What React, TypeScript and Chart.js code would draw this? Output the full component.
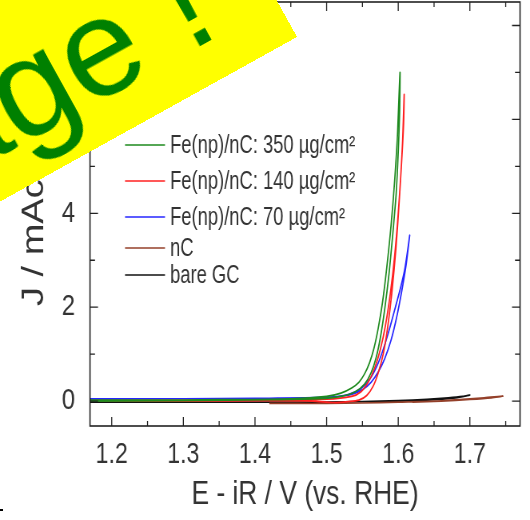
import { useEffect, useRef } from "react";
import { Chart, registerables } from "chart.js";

Chart.register(...registerables);

// ---------- data ----------
const SERIES_LABELS = [
  "Fe(np)/nC: 350 µg/cm²",
  "Fe(np)/nC: 140 µg/cm²",
  "Fe(np)/nC: 70 µg/cm²",
  "nC",
  "bare GC",
];
const SERIES_COLORS = ["#1e8a1e", "#ff2020", "#2626ff", "#94402a", "#111111"];

const E_350 = [1.17, 1.25, 1.35, 1.45, 1.5, 1.52, 1.535, 1.545, 1.553, 1.56, 1.566, 1.572, 1.578, 1.584, 1.59, 1.595, 1.599, 1.6025,
  1.602, 1.6, 1.597, 1.592, 1.587, 1.581, 1.575, 1.569, 1.562, 1.553, 1.54, 1.52, 1.49, 1.42, 1.3, 1.17];
const J_350 = [0.02, 0.02, 0.03, 0.05, 0.1, 0.17, 0.28, 0.4, 0.58, 0.82, 1.12, 1.55, 2.1, 2.85, 3.75, 4.7, 5.7, 7.0,
  6.2, 5.3, 4.4, 3.5, 2.7, 1.95, 1.35, 0.92, 0.6, 0.36, 0.2, 0.1, 0.05, 0.03, 0.01, 0.0];

const E_140 = [1.17, 1.3, 1.42, 1.48, 1.51, 1.53, 1.545, 1.556, 1.565, 1.572, 1.579, 1.585, 1.591, 1.597, 1.602, 1.606, 1.6083,
  1.6075, 1.604, 1.6, 1.595, 1.589, 1.582, 1.575, 1.567, 1.558, 1.548, 1.535, 1.5, 1.4, 1.17];
const J_140 = [0.0, 0.0, 0.01, 0.0, -0.03, -0.01, 0.02, 0.12, 0.32, 0.6, 1.0, 1.55, 2.3, 3.3, 4.4, 5.5, 6.53,
  5.9, 4.9, 4.0, 3.1, 2.3, 1.6, 1.1, 0.7, 0.4, 0.2, 0.1, 0.04, 0.02, 0.01];

const E_70 = [1.17, 1.3, 1.4, 1.47, 1.51, 1.535, 1.55, 1.562, 1.572, 1.581, 1.59, 1.598, 1.605, 1.611, 1.616,
  1.614, 1.609, 1.603, 1.596, 1.588, 1.579, 1.57, 1.56, 1.548, 1.53, 1.5, 1.42, 1.3, 1.17];
const J_70 = [0.04, 0.05, 0.06, 0.07, 0.09, 0.14, 0.24, 0.4, 0.62, 0.9, 1.3, 1.8, 2.35, 2.9, 3.53,
  3.3, 2.8, 2.4, 2.0, 1.55, 1.1, 0.74, 0.46, 0.27, 0.14, 0.08, 0.06, 0.05, 0.05];

const E_NC = [1.42, 1.46, 1.5, 1.55, 1.6, 1.65, 1.69, 1.72, 1.746, 1.73, 1.7, 1.66, 1.62];
const J_NC = [-0.05, -0.05, -0.05, -0.04, -0.02, 0.0, 0.04, 0.07, 0.106, 0.07, 0.035, 0.0, -0.02];

const E_GC = [1.17, 1.3, 1.4, 1.5, 1.55, 1.6, 1.64, 1.67, 1.69, 1.7, 1.695, 1.68, 1.65, 1.62, 1.58];
const J_GC = [-0.02, -0.02, -0.02, -0.02, -0.01, 0.01, 0.04, 0.07, 0.1, 0.13, 0.11, 0.07, 0.03, 0.01, -0.01];

const X_TICKS = [1.2, 1.3, 1.4, 1.5, 1.6, 1.7];
const X_MINOR = [1.25, 1.35, 1.45, 1.55, 1.65, 1.75];
const Y_TICKS = [0, 2, 4, 6, 8];
const Y_MINOR = [1, 3, 5, 7];
const X_RANGE = [1.1697, 1.77];
const Y_RANGE = [-0.53, 8.5];

const X_TITLE = "E - iR / V (vs. RHE)";
const Y_TITLE = "J / mAcm⁻²";
const BANNER_TEXT = "Image !";

// ---------- layout ----------
const PAGE_W = 530;
const PAGE_H = 520;
const CANVAS_W = 663;
const SX = PAGE_W / CANVAS_W;
const FONT = "'Liberation Sans', Arial, Helvetica, sans-serif";

const zip = (xs: number[], ys: number[]) => xs.map((x, i) => ({ x, y: ys[i] }));

const framePlugin = {
  id: "frameAndLegend",
  afterDraw(chart: any) {
    const { ctx, chartArea } = chart;
    const { left, right, top, bottom } = chartArea;
    const xs = chart.scales.x;
    const ys = chart.scales.y;
    ctx.save();
    ctx.strokeStyle = "#222";
    ctx.lineWidth = 1.6;
    ctx.strokeRect(left, top, right - left, bottom - top);
    ctx.lineWidth = 1.3;
    ctx.beginPath();
    const tx = (v: number, len: number) => {
      const p = xs.getPixelForValue(v);
      ctx.moveTo(p, bottom);
      ctx.lineTo(p, bottom - len);
      ctx.moveTo(p, top);
      ctx.lineTo(p, top + len);
    };
    const ty = (v: number, len: number) => {
      const p = ys.getPixelForValue(v);
      ctx.moveTo(left, p);
      ctx.lineTo(left + len / SX, p);
      ctx.moveTo(right, p);
      ctx.lineTo(right - len / SX, p);
    };
    X_TICKS.forEach((v) => tx(v, 9));
    X_MINOR.forEach((v) => tx(v, 5));
    Y_TICKS.forEach((v) => ty(v, 8));
    Y_MINOR.forEach((v) => ty(v, 5));
    ctx.stroke();

    // legend
    const rows = [145, 181, 217, 248, 275];
    const x0 = 125 / SX;
    const x1 = 165 / SX;
    const xt = 170 / SX;
    ctx.font = `25px ${FONT}`;
    ctx.textBaseline = "middle";
    ctx.textAlign = "left";
    chart.data.datasets.forEach((ds: any, i: number) => {
      const y = rows[i];
      ctx.strokeStyle = ds.borderColor;
      ctx.lineWidth = 1.6;
      ctx.beginPath();
      ctx.moveTo(x0, y);
      ctx.lineTo(x1, y);
      ctx.stroke();
      ctx.save();
      ctx.translate(xt, y + 1);
      ctx.scale(0.92, 1);
      ctx.fillStyle = "#333";
      ctx.fillText(ds.label, 0, 0);
      ctx.restore();
    });
    ctx.restore();
  },
};

function ChartCanvas() {
  const ref = useRef<HTMLCanvasElement | null>(null);
  useEffect(() => {
    if (!ref.current) return;
    const sets = [
      zip(E_350, J_350),
      zip(E_140, J_140),
      zip(E_70, J_70),
      zip(E_NC, J_NC),
      zip(E_GC, J_GC),
    ];
    const noPad = (s: any) => {
      s.paddingTop = 0;
      s.paddingBottom = 0;
      s.paddingLeft = 0;
      s.paddingRight = 0;
    };
    const chart = new Chart(ref.current, {
      type: "scatter",
      data: {
        datasets: sets.map((d, i) => ({
          label: SERIES_LABELS[i],
          data: d,
          showLine: true,
          borderColor: SERIES_COLORS[i],
          backgroundColor: SERIES_COLORS[i],
          borderWidth: 1.7,
          pointRadius: 0,
          tension: 0.25,
        })),
      },
      options: {
        animation: false,
        responsive: false,
        events: [],
        layout: { padding: { top: 2, right: CANVAS_W - 520 / SX, left: 0, bottom: 0 } },
        plugins: { legend: { display: false }, tooltip: { enabled: false } },
        scales: {
          x: {
            type: "linear",
            min: X_RANGE[0],
            max: X_RANGE[1],
            grid: { display: false, drawTicks: false },
            border: { display: false },
            ticks: {
              padding: 11.5,
              color: "#333",
              font: { size: 29, family: FONT },
              maxRotation: 0,
              autoSkip: false,
              callback: (v: any) => Number(v).toFixed(1),
            },
            title: {
              display: true,
              text: X_TITLE,
              color: "#333",
              font: { size: 33, family: FONT },
              padding: { top: 0, bottom: 5 },
            },
            afterBuildTicks: (s: any) => {
              s.ticks = X_TICKS.map((v) => ({ value: v }));
            },
            afterFit: (s: any) => {
              s.height = 94;
              noPad(s);
            },
          },
          y: {
            type: "linear",
            min: Y_RANGE[0],
            max: Y_RANGE[1],
            grid: { display: false, drawTicks: false },
            border: { display: false },
            ticks: {
              padding: 15 / SX,
              color: "#333",
              font: { size: 30, family: FONT },
              callback: (v: any) => String(v),
            },
            title: {
              display: true,
              text: Y_TITLE,
              color: "#333",
              font: { size: 38, family: FONT },
              padding: { top: 35 / SX - 22.8, bottom: 0 },
            },
            afterBuildTicks: (s: any) => {
              s.ticks = Y_TICKS.map((v) => ({ value: v }));
            },
            afterFit: (s: any) => {
              s.width = 90 / SX;
              noPad(s);
            },
          },
        },
      },
      plugins: [framePlugin],
    });
    return () => chart.destroy();
  }, []);
  return (
    <canvas
      ref={ref}
      width={CANVAS_W}
      height={PAGE_H}
      style={{
        position: "absolute",
        left: 0,
        top: 0,
        transform: `scaleX(${SX})`,
        transformOrigin: "0 0",
      }}
    />
  );
}

export default function App() {
  useEffect(() => {
    document.body.style.margin = "0";
  }, []);
  const L = 520;
  const H = 280;
  return (
    <div
      style={{
        position: "fixed",
        left: 0,
        top: 0,
        width: PAGE_W,
        height: PAGE_H,
        overflow: "hidden",
        background: "#fff",
      }}
    >
      <ChartCanvas />
      <div
        style={{
          position: "absolute",
          left: 297 - L,
          top: 37 - H,
          width: L,
          height: H,
          background: "#ffff00",
          transformOrigin: "100% 100%",
          transform: "rotate(-29deg)",
        }}
      >
        <span
          style={{
            position: "absolute",
            right: 63,
            bottom: 17,
            fontFamily: FONT,
            fontSize: 140,
            lineHeight: "140px",
            color: "#008000",
            whiteSpace: "nowrap",
          }}
        >
          {BANNER_TEXT}
        </span>
      </div>
      <div style={{ position: "absolute", left: 0, top: 509, width: 3, height: 2, background: "#000" }} />
    </div>
  );
}
